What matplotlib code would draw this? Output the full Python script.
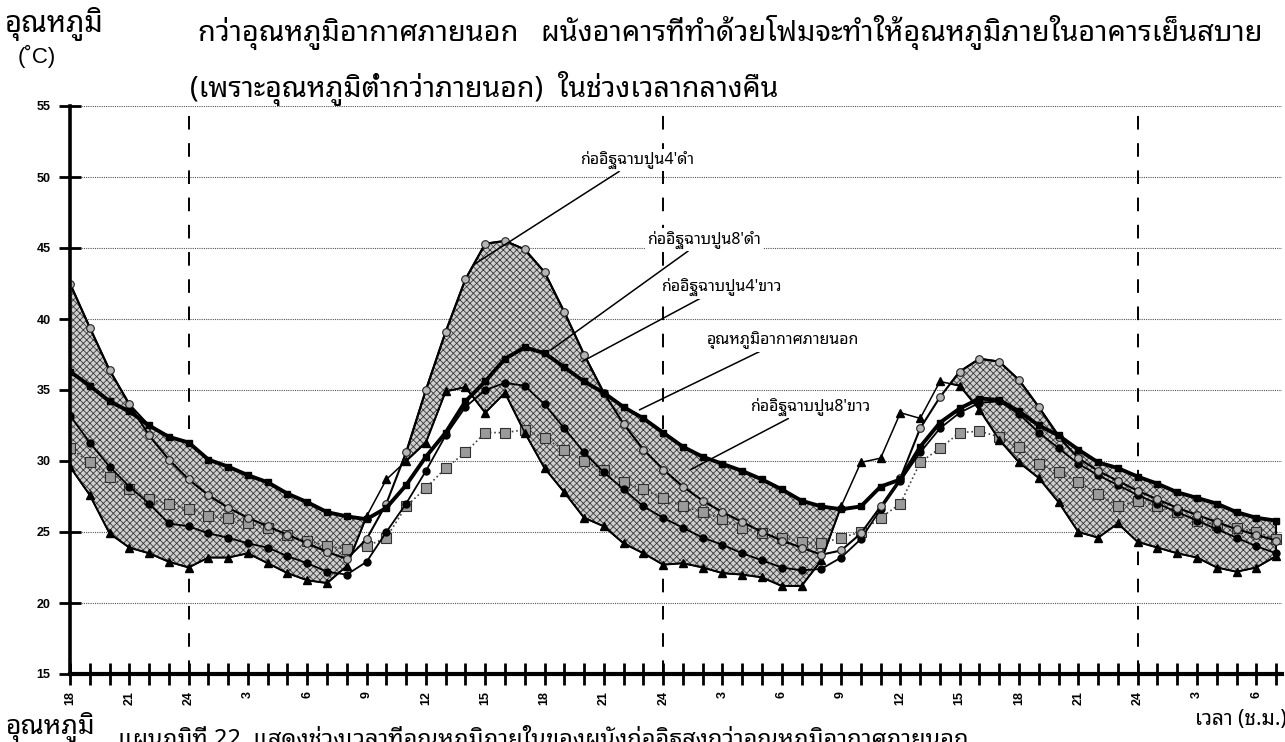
import numpy as np
import matplotlib
matplotlib.use("Agg")
import matplotlib.pyplot as plt
from matplotlib import font_manager
from matplotlib.ft2font import FT2Font


def find_thai_family():
    found = []
    for f in font_manager.fontManager.ttflist:
        try:
            cmap = FT2Font(f.fname).get_charmap()
        except Exception:
            continue
        if 0x0E01 in cmap and 0x0E34 in cmap:
            found.append(f.name)
    for pref in ["Noto Sans Thai Looped", "Noto Sans Thai", "Noto Looped Thai"]:
        if pref in found:
            return pref
    return found[0] if found else "DejaVu Sans"


THAI = find_thai_family()
plt.rcParams['font.family'] = [THAI, 'DejaVu Sans']
plt.rcParams['hatch.linewidth'] = 0.6

# hours from 18:00 of day 1
hours = np.arange(62)
tick_labels = ['18', '21', '24', '3', '6', '9', '12', '15', '18', '21', '24',
               '3', '6', '9', '12', '15', '18', '21', '24', '3', '6']

outdoor = [29.6, 27.6, 24.9, 23.9, 23.5, 22.9, 22.5, 23.2, 23.2, 23.5, 22.8, 22.1,
           21.6, 21.4, 22.6, 26.1, 28.7, 30.0, 31.3, 34.9, 35.2, 33.4, 34.8, 32.0,
           29.5, 27.8, 26.0, 25.4, 24.2, 23.5, 22.7, 22.8, 22.5, 22.1, 22.0, 21.8,
           21.2, 21.2, 23.0, 26.8, 29.9, 30.2, 33.4, 33.0, 35.6, 35.3, 33.6, 31.5,
           29.9, 28.8, 27.1, 25.0, 24.6, 25.6, 24.3, 23.9, 23.5, 23.2, 22.5, 22.2,
           22.5, 23.3]
black4 = [42.5, 39.4, 36.4, 34.0, 31.8, 30.1, 28.7, 27.6, 26.7, 26.0, 25.4, 24.8,
          24.2, 23.6, 23.1, 24.5, 27.0, 30.6, 35.0, 39.1, 42.8, 45.3, 45.5, 44.9,
          43.3, 40.5, 37.5, 34.8, 32.6, 30.8, 29.4, 28.2, 27.2, 26.4, 25.7, 25.0,
          24.4, 23.9, 23.4, 23.7, 24.9, 26.8, 28.8, 32.3, 34.5, 36.3, 37.2, 37.0,
          35.7, 33.8, 31.7, 30.2, 29.3, 28.6, 27.9, 27.3, 26.7, 26.2, 25.7, 25.2,
          24.8, 24.4]
black8 = [36.3, 35.3, 34.2, 33.5, 32.5, 31.7, 31.3, 30.1, 29.6, 29.0, 28.5, 27.7,
          27.1, 26.4, 26.1, 25.9, 26.7, 28.3, 30.3, 32.0, 34.2, 35.6, 37.2, 38.0,
          37.6, 36.6, 35.6, 34.8, 33.8, 33.0, 32.0, 31.0, 30.3, 29.8, 29.3, 28.7,
          28.0, 27.2, 26.8, 26.6, 26.8, 28.2, 28.7, 31.0, 32.7, 33.7, 34.4, 34.3,
          33.5, 32.5, 31.8, 30.8, 29.9, 29.5, 28.9, 28.4, 27.8, 27.4, 27.0, 26.4,
          26.0, 25.8]
white4 = [33.2, 31.3, 29.6, 28.2, 27.0, 25.6, 25.4, 24.9, 24.6, 24.2, 23.9, 23.3,
          22.8, 22.2, 22.0, 22.9, 25.0, 27.0, 29.3, 31.8, 33.8, 35.0, 35.5, 35.3,
          34.0, 32.3, 30.6, 29.2, 28.0, 26.8, 26.0, 25.3, 24.6, 24.1, 23.5, 23.0,
          22.5, 22.3, 22.4, 23.2, 24.5, 26.6, 28.6, 30.6, 32.3, 33.4, 34.1, 34.2,
          33.3, 32.0, 30.9, 29.8, 29.0, 28.3, 27.6, 27.0, 26.4, 25.8, 25.2, 24.6,
          24.0, 23.5]
white8 = [30.9, 29.9, 28.9, 28.0, 27.3, 27.0, 26.6, 26.1, 26.0, 25.6, 25.3, 24.8,
          24.4, 24.0, 23.8, 24.0, 24.6, 26.8, 28.1, 29.5, 30.6, 32.0, 32.0, 32.2,
          31.6, 30.8, 30.0, 29.4, 28.5, 28.0, 27.4, 26.8, 26.4, 25.9, 25.3, 24.9,
          24.6, 24.3, 24.2, 24.6, 25.0, 26.0, 27.0, 29.9, 30.9, 32.0, 32.1, 31.7,
          31.0, 29.8, 29.2, 28.5, 27.7, 26.8, 27.2, 26.8, 26.4, 25.8, 25.5, 25.3,
          25.0, 24.5]

fig = plt.figure(figsize=(12.85, 7.42), dpi=100)
ax = fig.add_axes([70 / 1285, 68 / 742, 1212 / 1285, 568 / 742])
ax.set_xlim(0, 61.3)
ax.set_ylim(15, 55)

# shaded band where the walls are warmer than the outside air
out = np.array(outdoor)
top = np.maximum(black4, black8)
warm = top > out
ax.fill_between(hours, out, top, where=warm, interpolate=True,
                facecolor='#cfcfcf', edgecolor='#3a3a3a', hatch='xxxxx',
                linewidth=0, zorder=2)
ax.fill_between(hours, out, top, where=warm, interpolate=True,
                facecolor='none', edgecolor='black', linewidth=1.4, zorder=2.5)

ax.plot(hours, white8, ls=':', color='#444444', lw=1.2, marker='s', ms=7,
        mfc='#9a9a9a', mec='#303030', mew=0.8, zorder=3)
ax.plot(hours, white4, color='black', lw=1.3, marker='o', ms=5, mfc='black',
        mec='black', zorder=4)
ax.plot(hours, outdoor, color='black', lw=1.1, marker='^', ms=5.5, mfc='black',
        mec='black', zorder=4)
ax.plot(hours, black4, color='black', lw=1.5, marker='o', ms=5.5, mfc='#b5b5b5',
        mec='#202020', mew=0.8, zorder=5)
ax.plot(hours, black8, color='black', lw=2.8, marker='s', ms=4, mfc='black',
        mec='black', zorder=5)

for h in [6, 30, 54]:
    ax.axvline(h, color='black', lw=1.4, ls=(0, (7, 7)), zorder=1)
for v in range(20, 60, 5):
    ax.axhline(v, color='#555555', lw=0.8, ls=(0, (1, 1)), zorder=0)

for s in ['top', 'right']:
    ax.spines[s].set_visible(False)
ax.spines['left'].set_linewidth(2.6)
ax.spines['bottom'].set_linewidth(3)
ax.spines['left'].set_zorder(6)
ax.spines['bottom'].set_zorder(6)

ax.set_yticks(range(15, 60, 5))
ax.set_yticklabels([str(v) for v in range(15, 60, 5)],
                   fontfamily='Liberation Sans', fontweight='bold', fontsize=9)
ax.set_xticks(hours)
ax.set_xticklabels([tick_labels[i // 3] if i % 3 == 0 else '' for i in hours],
                   rotation=90, fontfamily='Liberation Sans', fontweight='bold',
                   fontsize=9)
ax.tick_params(axis='y', direction='inout', length=16, width=2, pad=6)
ax.tick_params(axis='x', direction='inout', length=16, width=2, pad=4)

bb = dict(boxstyle='square,pad=0.15', fc='white', ec='none')
arrow = dict(arrowstyle='-', color='black', lw=1.1, shrinkA=0, shrinkB=0)
notes = [("ก่ออิฐฉาบปูน4'ดำ", (25.8, 51.2), (20.5, 43.9)),
         ("ก่ออิฐฉาบปูน8'ดำ", (29.2, 45.6), (24.3, 37.8)),
         ("ก่ออิฐฉาบปูน4'ขาว", (29.9, 42.25), (25.9, 37.0)),
         ("อุณหภูมิอากาศภายนอก", (32.2, 38.5), (28.8, 33.6)),
         ("ก่ออิฐฉาบปูน8'ขาว", (34.4, 33.8), (31.4, 29.4))]
for txt, pos, end in notes:
    ax.annotate(txt, xy=end, xytext=pos, fontsize=11.5, va='center', ha='left',
                bbox=bb, arrowprops=arrow, zorder=7)

fig.text(5 / 1285, 1 - 24 / 742, "อุณหภูมิ", fontsize=21, va='center')
fig.text(18 / 1285, 1 - 56 / 742, "(˚C)", fontsize=16, va='center',
         family=['Liberation Sans', 'DejaVu Sans'])
fig.text(198 / 1285, 1 - 33 / 742,
         "กว่าอุณหภูมิอากาศภายนอก   ผนังอาคารที่ทำด้วยโฟมจะทำให้อุณหภูมิภายในอาคารเย็นสบาย",
         fontsize=20.8, va='center')
fig.text(190 / 1285, 1 - 88 / 742,
         "(เพราะอุณหภูมิต่ำกว่าภายนอก)  ในช่วงเวลากลางคืน", fontsize=20.5,
         va='center')
fig.text(1195 / 1285, 1 - 720 / 742, "เวลา (ช.ม.)", fontsize=15, va='center')
fig.text(5 / 1285, 1 - 712 / 742, "อุณหภูมิ", fontsize=19, va='top')
fig.text(118 / 1285, 1 - 724 / 742,
         "แผนภูมิที่ 22  แสดงช่วงเวลาที่อุณหภูมิภายในของผนังก่ออิฐสูงกว่าอุณหภูมิอากาศภายนอก",
         fontsize=17, fontweight='bold', va='top')

fig.savefig("out.png", dpi=100)
